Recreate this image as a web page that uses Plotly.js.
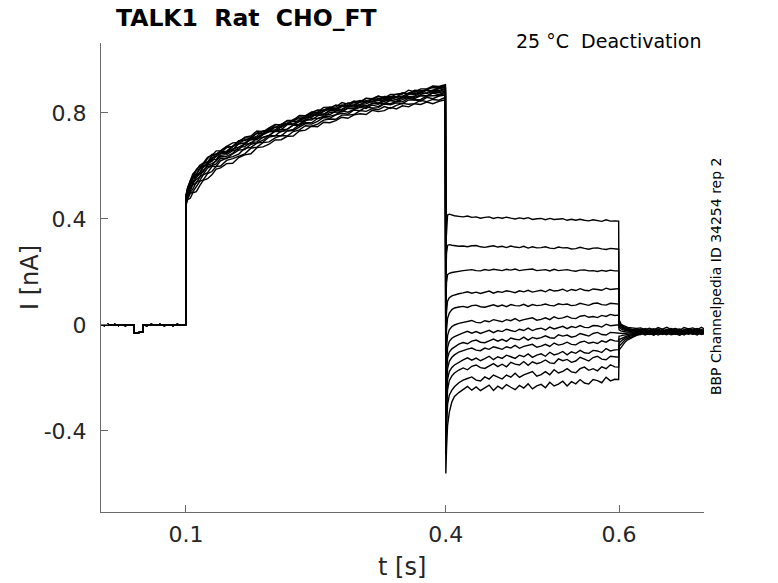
<!DOCTYPE html>
<html>
<head>
<meta charset="utf-8">
<script src="https://cdn.plot.ly/plotly-3.0.1.min.js"></script>
<style>
  html, body { margin: 0; padding: 0; background: #fff; }
  #chartBox { width: 778px; height: 583px; }
</style>
</head>
<body>
<div id="chartBox"></div>
<script>
// holding current before the step (same for every sweep)
const baseT = [0.002, 0.006, 0.01, 0.014, 0.018, 0.022, 0.026, 0.03, 0.035, 0.0403, 0.0405, 0.045, 0.0505, 0.0508,
               0.055, 0.06, 0.065, 0.07, 0.075, 0.08, 0.085, 0.09, 0.095, 0.0998];
const baseI = [0.001, -0.002, 0.002, -0.001, 0.002, -0.002, 0.001, -0.002, 0.001, 0.0, -0.031, -0.029, -0.026, 0.0,
               -0.002, 0.002, -0.001, 0.002, -0.002, 0.001, -0.002, 0.002, -0.001, 0.001];

// activation step 0.1 - 0.4 s
const actT = [0.1, 0.102, 0.105, 0.108, 0.112, 0.116, 0.12, 0.125, 0.13, 0.135, 0.14,
              0.147, 0.154, 0.161, 0.168, 0.175, 0.182, 0.189, 0.196, 0.203, 0.210, 0.217, 0.224,
              0.231, 0.238, 0.245, 0.252, 0.259, 0.266, 0.273, 0.280, 0.287, 0.294, 0.301, 0.308,
              0.315, 0.322, 0.329, 0.336, 0.343, 0.350, 0.357, 0.364, 0.371, 0.378, 0.385, 0.392, 0.3995];
const actI = [
  [.484,.510,.544,.557,.583,.588,.610,.615,.637,.645,.650,.669,.674,.695,.696,.707,.723,.722,.741,.745,.758,.758,.776,.778,.784,.801,.800,.812,.822,.816,.828,.827,.841,.847,.841,.853,.851,.862,.861,.860,.876,.873,.882,.878,.889,.896,.893,.901],
  [.478,.501,.531,.554,.563,.575,.600,.611,.617,.637,.649,.653,.661,.684,.686,.700,.704,.723,.731,.731,.747,.758,.757,.768,.785,.784,.798,.796,.810,.816,.813,.828,.828,.830,.845,.841,.849,.845,.858,.858,.856,.869,.875,.871,.877,.886,.885,.892],
  [.488,.519,.543,.570,.584,.603,.611,.633,.640,.657,.657,.674,.687,.689,.709,.713,.732,.729,.744,.757,.755,.772,.773,.791,.790,.804,.803,.821,.822,.822,.839,.833,.845,.841,.856,.854,.864,.856,.870,.871,.871,.886,.879,.891,.891,.902,.900,.907],
  [.472,.495,.523,.531,.556,.570,.578,.603,.609,.619,.640,.643,.658,.663,.682,.685,.705,.707,.715,.733,.738,.738,.755,.758,.775,.773,.789,.794,.793,.808,.808,.820,.817,.831,.827,.836,.833,.845,.847,.843,.859,.856,.859,.869,.864,.878,.876,.883],
  [.482,.508,.539,.560,.570,.589,.610,.615,.625,.645,.653,.656,.675,.684,.700,.701,.713,.731,.731,.747,.747,.761,.768,.770,.789,.796,.796,.805,.818,.814,.830,.827,.831,.842,.846,.842,.856,.852,.863,.860,.862,.875,.882,.875,.885,.885,.897,.898],
  [.466,.485,.511,.529,.535,.558,.569,.592,.601,.608,.629,.628,.646,.660,.662,.682,.687,.697,.715,.714,.732,.733,.738,.756,.763,.763,.779,.788,.787,.794,.808,.803,.813,.821,.817,.830,.824,.838,.835,.843,.842,.856,.850,.851,.864,.864,.866,.874],
  [.486,.518,.541,.559,.587,.598,.607,.628,.644,.645,.656,.674,.673,.694,.706,.706,.725,.732,.734,.755,.757,.770,.769,.785,.785,.801,.811,.810,.818,.830,.825,.838,.838,.842,.855,.850,.863,.859,.860,.871,.875,.872,.886,.884,.887,.900,.896,.904],
  [.476,.506,.531,.540,.563,.570,.595,.605,.623,.625,.647,.648,.664,.671,.683,.700,.699,.718,.729,.731,.737,.756,.756,.768,.772,.789,.794,.792,.809,.808,.813,.826,.822,.833,.835,.844,.837,.850,.856,.850,.861,.861,.863,.877,.873,.882,.880,.889],
  [.456,.475,.496,.502,.522,.542,.547,.571,.579,.598,.600,.621,.628,.637,.646,.667,.671,.688,.691,.706,.715,.713,.730,.736,.752,.750,.758,.773,.777,.776,.792,.792,.794,.809,.806,.816,.812,.824,.817,.829,.836,.833,.835,.848,.843,.851,.848,.859],
  [.480,.512,.530,.553,.565,.590,.598,.610,.631,.636,.651,.652,.673,.684,.687,.707,.709,.720,.736,.736,.752,.762,.759,.774,.779,.794,.791,.809,.812,.812,.824,.824,.827,.842,.840,.850,.846,.857,.850,.862,.863,.874,.869,.880,.887,.880,.892,.895],
  [.450,.473,.478,.499,.503,.526,.546,.552,.567,.588,.593,.609,.610,.632,.642,.646,.669,.672,.682,.698,.699,.712,.713,.732,.735,.750,.748,.765,.763,.771,.784,.780,.793,.797,.794,.810,.805,.809,.821,.815,.827,.823,.835,.832,.841,.835,.844,.850],
  [.470,.497,.511,.538,.547,.559,.584,.598,.602,.621,.635,.636,.648,.670,.673,.689,.691,.709,.715,.731,.729,.739,.754,.752,.770,.779,.779,.784,.802,.803,.804,.817,.816,.826,.822,.836,.837,.834,.849,.843,.850,.861,.855,.865,.864,.875,.869,.880],
  [.462,.489,.499,.513,.539,.545,.566,.575,.598,.599,.619,.630,.635,.645,.667,.670,.686,.690,.709,.714,.714,.732,.734,.747,.760,.758,.768,.783,.780,.793,.799,.795,.811,.809,.822,.819,.820,.834,.831,.838,.835,.849,.850,.844,.859,.854,.864,.868]
];

// deactivation tails 0.4 - 0.6 s
const tailT = [0.4, 0.4008, 0.402, 0.404, 0.407, 0.41, 0.415,
               0.42, 0.425, 0.43, 0.435, 0.44, 0.445, 0.45, 0.455, 0.46, 0.465, 0.47, 0.475,
               0.48, 0.485, 0.49, 0.495, 0.50, 0.505, 0.51, 0.515, 0.52, 0.525, 0.53, 0.535,
               0.54, 0.545, 0.55, 0.555, 0.56, 0.565, 0.57, 0.575, 0.58, 0.585, 0.59, 0.595, 0.5995];
const tailI = [
  [0.30, 0.38, 0.415, 0.418, 0.414, 0.412, 0.410, .408,.411,.406,.408,.403,.406,.408,.402,.406,.403,.407,.403,.400,.404,.401,.405,.398,.401,.402,.397,.402,.398,.399,.401,.395,.399,.395,.399,.395,.393,.397,.395,.391,.397,.392,.393, .392],
  [0.18, 0.27, 0.300, 0.303, 0.301, 0.299, 0.297, .298,.295,.299,.300,.295,.293,.296,.299,.294,.297,.292,.298,.294,.292,.297,.290,.295,.291,.292,.295,.290,.288,.294,.291,.292,.287,.288,.293,.289,.286,.290,.291,.287,.285,.289,.287, .286],
  [0.08, 0.16, 0.190, 0.195, 0.198, 0.200, 0.203, .205,.207,.209,.205,.204,.209,.206,.210,.208,.205,.210,.207,.211,.205,.208,.210,.211,.205,.206,.209,.204,.210,.205,.206,.209,.205,.203,.207,.208,.204,.205,.202,.206,.203,.207,.204, .204],
  [-0.01, 0.05, 0.090, 0.103, 0.110, 0.114, 0.118, .121,.125,.120,.124,.119,.123,.128,.120,.126,.123,.129,.126,.122,.129,.125,.131,.124,.128,.131,.125,.134,.128,.130,.135,.127,.134,.130,.137,.131,.129,.136,.134,.131,.139,.134,.136, .137],
  [-0.08, -0.02, 0.025, 0.045, 0.058, 0.064, 0.068, .070,.066,.073,.075,.069,.067,.072,.076,.070,.075,.069,.077,.073,.072,.078,.070,.077,.073,.075,.079,.074,.072,.080,.077,.079,.073,.075,.082,.078,.074,.081,.083,.077,.075,.082,.080, .079],
  [-0.15, -0.09, -0.040, -0.018, -0.006, 0.000, 0.006, .010,.013,.017,.010,.008,.016,.012,.020,.016,.012,.020,.016,.024,.015,.020,.024,.027,.018,.021,.027,.020,.031,.024,.027,.033,.026,.024,.033,.036,.029,.032,.028,.036,.032,.040,.036, .037],
  [-0.21, -0.14, -0.085, -0.062, -0.050, -0.044, -0.036, -.030,-.024,-.031,-.025,-.032,-.026,-.020,-.029,-.021,-.025,-.016,-.021,-.025,-.016,-.021,-.012,-.021,-.015,-.012,-.019,-.008,-.015,-.011,-.005,-.014,-.006,-.010,-.002,-.009,-.010,-.002,-.003,-.008,.003,-.003,.000, .001],
  [-0.27, -0.19, -0.125, -0.102, -0.090, -0.082, -0.072, -.066,-.071,-.061,-.057,-.065,-.067,-.060,-.053,-.061,-.054,-.062,-.049,-.054,-.056,-.046,-.057,-.047,-.052,-.048,-.041,-.048,-.050,-.037,-.042,-.038,-.046,-.042,-.032,-.037,-.042,-.032,-.028,-.036,-.038,-.028,-.030, -.031],
  [-0.32, -0.24, -0.165, -0.137, -0.122, -0.113, -0.102, -.095,-.091,-.087,-.095,-.097,-.087,-.092,-.082,-.087,-.092,-.082,-.087,-.077,-.088,-.081,-.077,-.073,-.084,-.080,-.073,-.081,-.068,-.076,-.072,-.065,-.073,-.075,-.065,-.061,-.069,-.065,-.070,-.060,-.065,-.055,-.060, -.061],
  [-0.38, -0.29, -0.205, -0.176, -0.160, -0.151, -0.140, -.132,-.124,-.133,-.125,-.135,-.127,-.118,-.131,-.120,-.126,-.114,-.120,-.126,-.114,-.120,-.109,-.122,-.114,-.109,-.118,-.103,-.113,-.108,-.100,-.113,-.101,-.107,-.096,-.105,-.107,-.096,-.098,-.104,-.089,-.098,-.094, -.093],
  [-0.43, -0.34, -0.245, -0.210, -0.192, -0.181, -0.170, -.162,-.169,-.156,-.151,-.161,-.164,-.155,-.146,-.157,-.148,-.158,-.141,-.148,-.151,-.138,-.152,-.139,-.146,-.141,-.132,-.143,-.145,-.128,-.135,-.130,-.141,-.136,-.122,-.129,-.136,-.123,-.118,-.129,-.131,-.118,-.121, -.122],
  [-0.49, -0.40, -0.300, -0.265, -0.246, -0.233, -0.218, -.208,-.202,-.196,-.208,-.211,-.196,-.204,-.189,-.197,-.204,-.189,-.197,-.182,-.198,-.188,-.182,-.176,-.193,-.187,-.176,-.188,-.169,-.181,-.175,-.165,-.177,-.180,-.165,-.159,-.171,-.165,-.173,-.158,-.165,-.150,-.158, -.159],
  [-0.56, -0.47, -0.380, -0.330, -0.290, -0.270, -0.255, -.243,-.232,-.246,-.234,-.248,-.238,-.227,-.247,-.231,-.241,-.225,-.235,-.244,-.228,-.238,-.222,-.241,-.230,-.224,-.237,-.216,-.230,-.223,-.212,-.230,-.214,-.222,-.206,-.219,-.223,-.206,-.210,-.218,-.197,-.211,-.205, -.206]
];

// back to holding after 0.6 s
const postT = [0.6, 0.6006, 0.602, 0.604, 0.607, 0.61, 0.615, 0.62, 0.625, 0.63, 0.635, 0.64, 0.645, 0.65,
               0.655, 0.66, 0.665, 0.67, 0.675, 0.68, 0.685, 0.69, 0.695, 0.698];
const postI = [
  [0.020, 0.012, 0.005, -0.001, -0.006, -0.009, -0.011, -0.013, -.011,-.018,-.012,-.019,-.010,-.016,-.009,-.017,-.013,-.019,-.010,-.015,-.011,-.018,-.009,-.014],
  [0.015, 0.008, 0.002, -0.004, -0.010, -0.013, -0.016, -0.017, -.021,-.013,-.020,-.014,-.023,-.017,-.022,-.013,-.020,-.015,-.023,-.014,-.019,-.013,-.021,-.018],
  [0.010, 0.004, -0.002, -0.008, -0.013, -0.016, -0.019, -0.021, -.016,-.022,-.025,-.017,-.015,-.024,-.018,-.023,-.015,-.025,-.019,-.016,-.024,-.018,-.023,-.020],
  [0.005, 0.000, -0.005, -0.010, -0.014, -0.018, -0.021, -0.022, -.019,-.026,-.020,-.027,-.018,-.024,-.017,-.025,-.021,-.027,-.018,-.023,-.019,-.026,-.017,-.022],
  [0.000, -0.004, -0.008, -0.013, -0.017, -0.020, -0.022, -0.024, -.027,-.019,-.026,-.020,-.029,-.023,-.028,-.019,-.026,-.021,-.029,-.020,-.025,-.019,-.027,-.024],
  [-0.008, -0.011, -0.014, -0.018, -0.021, -0.023, -0.025, -0.026, -.022,-.028,-.031,-.023,-.021,-.030,-.024,-.029,-.021,-.031,-.025,-.022,-.030,-.024,-.029,-.026],
  [-0.018, -0.020, -0.022, -0.024, -0.026, -0.027, -0.027, -0.028, -.024,-.031,-.025,-.032,-.023,-.029,-.022,-.030,-.026,-.032,-.023,-.028,-.024,-.031,-.022,-.027],
  [-0.030, -0.031, -0.032, -0.032, -0.031, -0.030, -0.030, -0.029, -.032,-.024,-.031,-.025,-.034,-.028,-.033,-.024,-.031,-.026,-.034,-.025,-.030,-.024,-.032,-.029],
  [-0.042, -0.042, -0.041, -0.039, -0.037, -0.035, -0.033, -0.032, -.026,-.032,-.035,-.027,-.025,-.034,-.028,-.033,-.025,-.035,-.029,-.026,-.034,-.028,-.033,-.030],
  [-0.055, -0.054, -0.052, -0.048, -0.044, -0.040, -0.037, -0.035, -.029,-.036,-.030,-.037,-.028,-.034,-.027,-.035,-.031,-.037,-.028,-.033,-.029,-.036,-.027,-.032],
  [-0.068, -0.066, -0.062, -0.056, -0.050, -0.045, -0.040, -0.037, -.036,-.028,-.035,-.029,-.038,-.032,-.037,-.028,-.035,-.030,-.038,-.029,-.034,-.028,-.036,-.033],
  [-0.080, -0.078, -0.072, -0.064, -0.056, -0.050, -0.044, -0.039, -.027,-.033,-.036,-.028,-.026,-.035,-.029,-.034,-.026,-.036,-.030,-.027,-.035,-.029,-.034,-.031],
  [-0.095, -0.092, -0.085, -0.075, -0.064, -0.056, -0.048, -0.042, -.031,-.038,-.032,-.039,-.030,-.036,-.029,-.037,-.033,-.039,-.030,-.035,-.031,-.038,-.029,-.034]
];

const xTicks = [0.1, 0.4, 0.6];
const xTickText = ['0.1', '0.4', '0.6'];
const yTicks = [-0.4, 0, 0.4, 0.8];
const yTickText = ['-0.4', '0', '0.4', '0.8'];

const font = 'DejaVu Sans, Liberation Sans, sans-serif';
const axisGrey = '#6b6b6b';
const textCol = '#262626';

// one line per sweep: holding + step + tail + holding
const traces = actI.map((act, i) => ({
    x: baseT.concat(actT, tailT, postT),
    y: baseI.concat(act, tailI[i], postI[i]),
    type: 'scatter',
    mode: 'lines',
    line: { color: '#000', width: 1.4 },
    hoverinfo: 'skip',
    showlegend: false,
}));

const axisCommon = {
    showline: true,
    linecolor: axisGrey,
    linewidth: 1,
    ticks: 'inside',
    ticklen: 7,
    tickcolor: axisGrey,
    showgrid: false,
    zeroline: false,
    fixedrange: true,
    tickfont: { family: font, size: 22, color: textCol },
};

const layout = {
    width: 778,
    height: 583,
    margin: { l: 101, r: 74, t: 43, b: 71 },
    paper_bgcolor: '#fff',
    plot_bgcolor: '#fff',
    font: { family: font, color: textCol },
    xaxis: Object.assign({}, axisCommon, {
        range: [0.002, 0.698],
        tickvals: xTicks,
        ticktext: xTickText,
        ticklabelstandoff: 3,
    }),
    yaxis: Object.assign({}, axisCommon, {
        range: [-0.7057, 1.064],
        tickvals: yTicks,
        ticktext: yTickText,
        ticklabelstandoff: 9,
    }),
    annotations: [
        {
            text: '<b>TALK1  Rat  CHO_FT</b>',
            xref: 'paper', yref: 'paper', x: 0.0215, y: 1.053,
            xanchor: 'left', yanchor: 'middle', showarrow: false,
            font: { family: font, size: 23.5, color: '#000' },
        },
        {
            text: '25 °C  Deactivation',
            xref: 'paper', yref: 'paper', x: 0.998, y: 1.004,
            xanchor: 'right', yanchor: 'middle', showarrow: false,
            font: { family: font, size: 19, color: '#000' },
        },
        {
            text: 'BBP Channelpedia ID 34254 rep 2',
            xref: 'paper', yref: 'paper', x: 1.0199, y: 0.503,
            xanchor: 'center', yanchor: 'middle', textangle: -90, showarrow: false,
            font: { family: font, size: 14, color: '#000' },
        },
        {
            text: 'I [nA]',
            xref: 'paper', yref: 'paper', x: -0.1177, y: 0.499,
            xanchor: 'center', yanchor: 'middle', textangle: -90, showarrow: false,
            font: { family: font, size: 24, color: textCol },
        },
        {
            text: 't [s]',
            xref: 'paper', yref: 'paper', x: 0.499, y: -0.1173,
            xanchor: 'center', yanchor: 'middle', showarrow: false,
            font: { family: font, size: 24, color: textCol },
        },
    ],
};

Plotly.newPlot('chartBox', traces, layout, { displayModeBar: false, staticPlot: true });
</script>
</body>
</html>
